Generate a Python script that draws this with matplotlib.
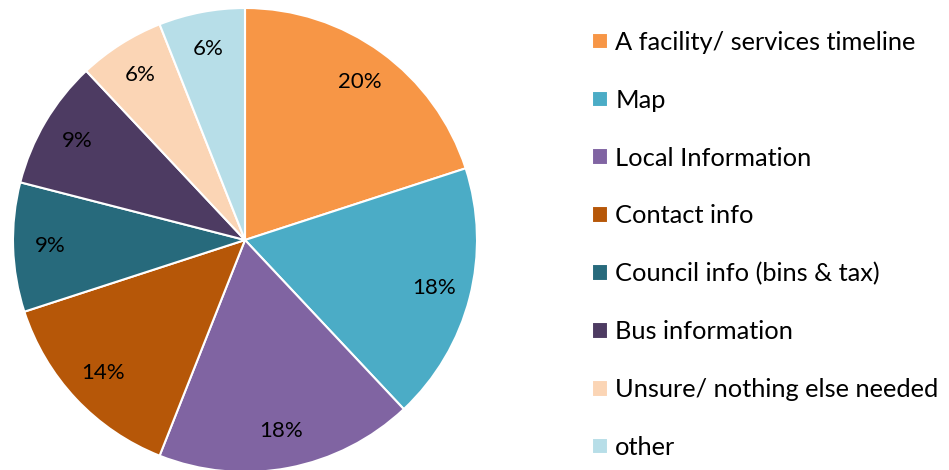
import matplotlib.pyplot as plt

labels = ["A facility/ services timeline", "Map", "Local Information", "Contact info",
          "Council info (bins & tax)", "Bus information", "Unsure/ nothing else needed", "other"]
values = [20, 18, 18, 14, 9, 9, 6, 6]
colors = ["#F79646", "#4BACC6", "#8064A2", "#B65708", "#276A7C", "#4D3B62", "#FBD5B5", "#B7DEE8"]

plt.rcParams['font.family'] = ['Lato', 'DejaVu Sans']

W, H = 949, 470
fig = plt.figure(figsize=(W / 100, H / 100), dpi=100)

cx, cy, r = 245, 240, 232
ax = fig.add_axes([(cx - r) / W, (H - cy - r) / H, 2 * r / W, 2 * r / H])
wedges, texts, autotexts = ax.pie(values, colors=colors, startangle=90, counterclock=False,
                                  autopct='%d%%', pctdistance=0.84, radius=1,
                                  wedgeprops=dict(edgecolor='white', linewidth=1.5))
for t in autotexts:
    t.set_fontsize(16)
    t.set_color('black')
ax.set_xlim(-1, 1)
ax.set_ylim(-1, 1)
ax.set_aspect('equal')

leg = fig.legend(wedges, labels, loc='upper left', bbox_to_anchor=(592 / W, (H - 31) / H),
                 frameon=False, fontsize=18.3, handlelength=0.63, handleheight=0.63,
                 handletextpad=0.28, labelspacing=1.37, borderpad=0, borderaxespad=0)

fig.savefig("out.png", dpi=100)
